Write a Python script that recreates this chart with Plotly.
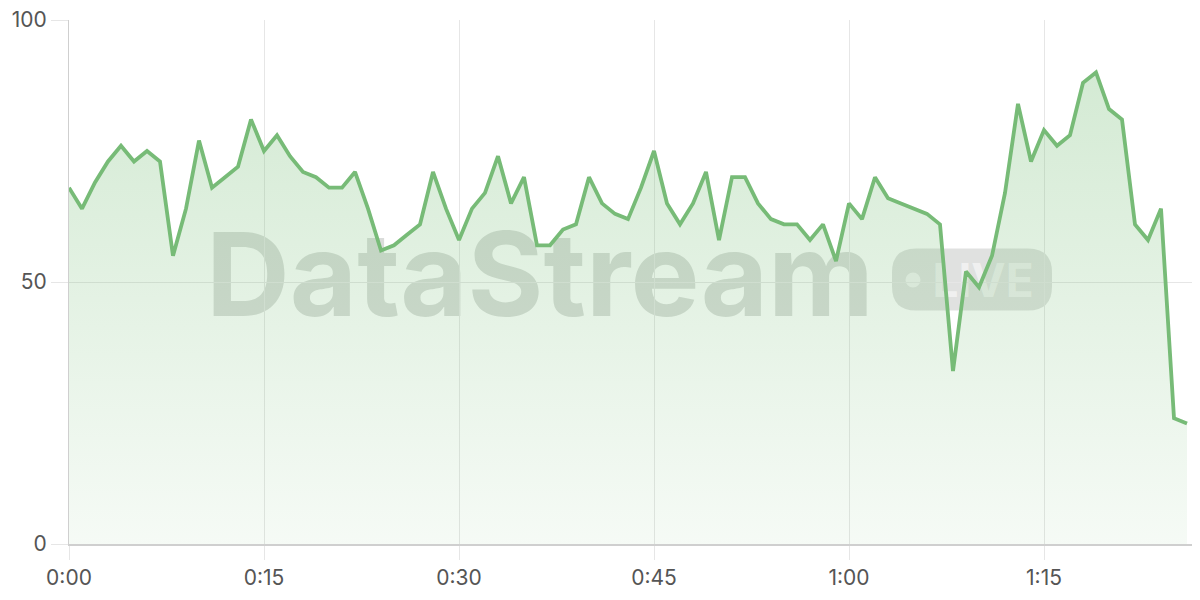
import plotly.graph_objects as go

# ---- data ----
minutes = list(range(0, 87))
values = [
    68, 64, 69, 73, 76, 73, 75, 73, 55, 64,
    77, 68, 70, 72, 81, 75, 78, 74, 71, 70,
    68, 68, 71, 64, 56, 57, 59, 61, 71, 64,
    58, 64, 67, 74, 65, 70, 57, 57, 60, 61,
    70, 65, 63, 62, 68, 75, 65, 61, 65, 71,
    58, 70, 70, 65, 62, 61, 61, 58, 61, 54,
    65, 62, 70, 66, 65, 64, 63, 61, 33, 52,
    49, 55, 67, 84, 73, 79, 76, 78, 88, 90,
    83, 81, 61, 58, 64, 24, 23,
]
x_tick_vals = [0, 15, 30, 45, 60, 75]
x_tick_text = ["0:00", "0:15", "0:30", "0:45", "1:00", "1:15"]
y_tick_vals = [0, 50, 100]
watermark_text = "DataStream"
badge_text = "LIVE"

LINE = "#77bb77"
GRID = "#e6e6e6"
AXIS = "#cfcfcf"
FONT = "Inter"

fig = go.Figure()
fig.add_trace(go.Scatter(
    x=minutes, y=values, mode="lines",
    line=dict(color=LINE, width=3.8),
    fill="tozeroy",
    fillgradient=dict(
        type="vertical",
        start=0, stop=90,
        colorscale=[[0, "rgba(120,190,120,0.07)"], [1, "rgba(120,190,120,0.32)"]],
    ),
    hoverinfo="skip",
))

# page has an 8px body margin; figure placed at (8, 8)
OFF = 8
# plot area in window pixels: x 69..1200, y 20..544
L, R, T, B = 69, 1200, 20, 544
def px(x):
    return (x - L) / (R - L)
def py(y):
    return (B - y) / (B - T)

shapes = []
# watermark text
shapes.append(dict(
    type="rect", xref="paper", yref="paper",
    x0=px(190), x1=px(890), y0=py(329), y1=py(211),
    line=dict(width=0), fillcolor="rgba(0,0,0,0)", layer="between",
    label=dict(text=watermark_text, textposition="middle center",
               font=dict(family=FONT, size=116, color="rgba(70,80,70,0.20)", weight="bold")),
))
# LIVE badge background (rounded rect)
r = 24
w2, h2 = 80, 31
path = (f"M {-w2 + r},{-h2} L {w2 - r},{-h2} Q {w2},{-h2} {w2},{-h2 + r} "
        f"L {w2},{h2 - r} Q {w2},{h2} {w2 - r},{h2} L {-w2 + r},{h2} "
        f"Q {-w2},{h2} {-w2},{h2 - r} L {-w2},{-h2 + r} Q {-w2},{-h2} {-w2 + r},{-h2} Z")
shapes.append(dict(
    type="path", xref="paper", yref="paper",
    xsizemode="pixel", ysizemode="pixel",
    xanchor=px(972), yanchor=py(279.5),
    path=path, line=dict(width=0), fillcolor="rgba(70,80,70,0.17)", layer="between",
))
# dot
shapes.append(dict(
    type="circle", xref="paper", yref="paper",
    xsizemode="pixel", ysizemode="pixel",
    xanchor=px(913), yanchor=py(280),
    x0=-7.5, x1=7.5, y0=-7.5, y1=7.5,
    line=dict(width=0), fillcolor="rgba(255,255,255,0.6)", layer="between",
))
# LIVE text
shapes.append(dict(
    type="rect", xref="paper", yref="paper",
    x0=px(928), x1=px(1038), y0=py(304), y1=py(254),
    line=dict(width=0), fillcolor="rgba(0,0,0,0)", layer="between",
    label=dict(text=badge_text, textposition="middle center",
               font=dict(family=FONT, size=46, color="rgba(255,255,255,0.55)", weight="bold")),
))

fig.update_layout(
    width=(L - OFF) + (R - L),          # figure spans x 8..1200
    height=(B - OFF) + (600 - B),       # figure spans y 8..600
    margin=dict(l=L - OFF, r=0, t=T - OFF, b=600 - B, autoexpand=False),
    paper_bgcolor="white", plot_bgcolor="white",
    showlegend=False,
    shapes=shapes,
    font=dict(family=FONT, size=21, color="#555555"),
)
fig.update_xaxes(
    range=[0, 87], tickvals=x_tick_vals, ticktext=x_tick_text,
    showgrid=True, gridcolor=GRID, gridwidth=1,
    showline=True, linecolor=AXIS, linewidth=2,
    ticks="outside", ticklen=14, tickcolor=GRID, tickwidth=1,
    zeroline=False, automargin=False, ticklabeloverflow="allow",
    tickfont=dict(family=FONT, size=21, color="#555555"),
)
fig.update_yaxes(
    range=[0, 100], tickvals=y_tick_vals,
    showgrid=True, gridcolor=GRID, gridwidth=1,
    showline=True, linecolor=AXIS, linewidth=1,
    ticks="outside", ticklen=17, tickcolor=GRID, tickwidth=1,
    zeroline=False, automargin=False, ticklabeloverflow="allow",
    tickfont=dict(family=FONT, size=21, color="#555555"),
)

fig.write_html("out.html")
